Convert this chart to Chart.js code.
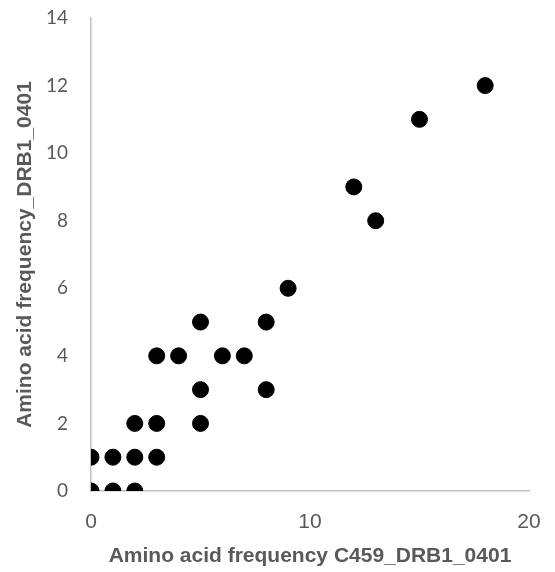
<!DOCTYPE html>
<html>
<head>
<meta charset="utf-8">
<script src="https://cdn.jsdelivr.net/npm/chart.js@4/dist/chart.umd.min.js"></script>
<style>
  html, body { margin: 0; padding: 0; background: #fff; }
  #wrap { width: 555px; height: 572px; position: relative; }
</style>
</head>
<body>
<div id="wrap"><canvas id="scatter-chart"></canvas></div>
<script>
// x = C459_DRB1_0401 frequency, y = DRB1_0401 frequency
const xValues = [0, 1, 2, 0, 1, 2, 3, 2, 3, 5, 5, 8, 3, 4, 6, 7, 5, 8, 9, 12, 13, 15, 18];
const yValues = [0, 0, 0, 1, 1, 1, 1, 2, 2, 2, 3, 3, 4, 4, 4, 4, 5, 5, 6, 9, 8, 11, 12];
const xTicks = [0, 10, 20];
const yTicks = [0, 2, 4, 6, 8, 10, 12, 14];

const points = xValues.map((x, i) => ({ x: x, y: yValues[i] }));
const axisGrey = '#bfbfbf';
const textGrey = '#595959';

new Chart(document.getElementById('scatter-chart'), {
    type: 'scatter',
    data: {
        datasets: [{
            data: points,
            backgroundColor: '#000',
            borderColor: '#000',
            pointRadius: 8,
            pointHoverRadius: 8
        }]
    },
    options: {
        responsive: true,
        maintainAspectRatio: false,
        animation: false,
        layout: { padding: { top: 18, right: 26, bottom: 0, left: 0 } },
        plugins: { legend: { display: false }, tooltip: { enabled: false } },
        scales: {
            x: {
                type: 'linear',
                min: 0,
                max: 20,
                afterBuildTicks: s => { s.ticks = xTicks.map(v => ({ value: v })); },
                afterFit: s => { s.height = 81; },
                // grid hidden; tickLength only used to push labels off the axis
                grid: { display: false, drawTicks: true, tickLength: 19 },
                border: { display: true, color: axisGrey, width: 1.5 },
                ticks: { color: textGrey, padding: 0, font: { family: 'Liberation Sans', size: 21 } },
                title: {
                    display: true,
                    text: 'Amino acid frequency C459_DRB1_0401',
                    color: textGrey,
                    padding: { top: 0, bottom: 3 },
                    font: { family: 'Liberation Sans', size: 21, weight: 'bold' }
                }
            },
            y: {
                type: 'linear',
                min: 0,
                max: 14,
                afterBuildTicks: s => { s.ticks = yTicks.map(v => ({ value: v })); },
                afterFit: s => { s.width = 91; },
                grid: { display: false, drawTicks: true, tickLength: 23 },
                border: { display: true, color: axisGrey, width: 1.5 },
                ticks: { color: textGrey, padding: 0, font: { family: 'Lato', size: 19 } },
                title: {
                    display: true,
                    text: 'Amino acid frequency_DRB1_0401',
                    color: textGrey,
                    padding: { top: 13, bottom: 0 },
                    font: { family: 'Liberation Sans', size: 21, weight: 'bold' }
                }
            }
        }
    }
});
</script>
</body>
</html>
